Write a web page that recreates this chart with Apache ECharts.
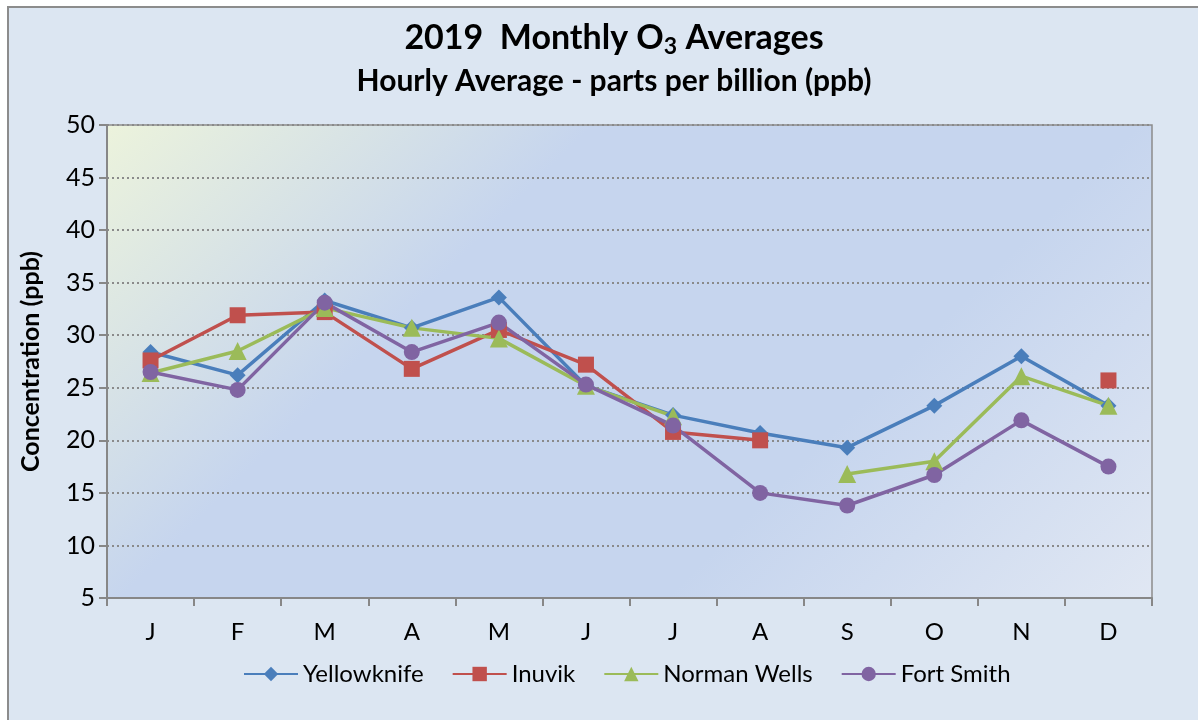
<!DOCTYPE html>
<html>
<head>
<meta charset="utf-8">
<script src="https://cdn.jsdelivr.net/npm/echarts@6/dist/echarts.min.js"></script>
<style>
  html, body { margin: 0; padding: 0; background: #ffffff; }
  #main { width: 1198px; height: 720px; }
</style>
</head>
<body>
<div id="main"></div>
<script>
// months
const months = ['J', 'F', 'M', 'A', 'M', 'J', 'J', 'A', 'S', 'O', 'N', 'D']
// monthly O3 averages (ppb)
const yellowknife = [28.4, 26.2, 33.3, 30.7, 33.6, 25.2, 22.4, 20.7, 19.3, 23.3, 28.0, 23.3]
const inuvik = [27.6, 31.9, 32.2, 26.8, 30.5, 27.2, 20.8, 20.0, null, null, null, 25.7]
const normanWells = [26.4, 28.5, 32.6, 30.7, 29.7, 25.2, 22.3, null, 16.8, 18.0, 26.1, 23.3]
const fortSmith = [26.5, 24.8, 33.1, 28.4, 31.2, 25.3, 21.4, 15.0, 13.8, 16.7, 21.9, 17.5]

const FONT = 'Lato'

function makeSeries(name, data, color, symbol, size) {
  return {
    name: name,
    type: 'line',
    data: data,
    symbol: symbol,
    symbolSize: size,
    connectNulls: false,
    showAllSymbol: true,
    lineStyle: { color: color, width: 3.5 },
    itemStyle: { color: color },
    emphasis: { disabled: true }
  }
}

const chart = echarts.init(document.getElementById('main'))
const option = {
  animation: false,
  backgroundColor: '#ffffff',
  textStyle: { fontFamily: FONT },
  graphic: [
    {
      type: 'rect',
      z: -10,
      shape: { x: 8, y: 7, width: 1200, height: 720 },
      style: { fill: '#dce6f2', stroke: '#8c8c8c', lineWidth: 2 }
    }
  ],
  title: [
    {
      text: '2019  Monthly O{sub|3} Averages',
      left: 609,
      textAlign: 'center',
      top: 14,
      textStyle: {
        fontFamily: FONT,
        fontSize: 34,
        fontWeight: 'bold',
        color: '#000',
        rich: {
          sub: { fontFamily: FONT, fontSize: 23, fontWeight: 'bold', color: '#000', verticalAlign: 'bottom', padding: [16, 0, 0, 0] }
        }
      }
    },
    {
      text: 'Hourly Average - parts per billion (ppb)',
      left: 609,
      textAlign: 'center',
      top: 61,
      textStyle: { fontFamily: FONT, fontSize: 30, fontWeight: 'bold', color: '#000' }
    }
  ],
  legend: {
    left: 238,
    top: 657,
    itemWidth: 54,
    itemHeight: 18,
    itemGap: 28,
    textStyle: { fontFamily: FONT, fontSize: 24, color: '#000' },
    data: ['Yellowknife', 'Inuvik', 'Norman Wells', 'Fort Smith']
  },
  grid: {
    left: 107,
    right: 46,
    top: 125,
    bottom: 122,
    show: true,
    borderColor: '#8c8c8c',
    borderWidth: 1.5,
    backgroundColor: {
      type: 'linear',
      global: true,
      x: 107, y: 125, x2: 866, y2: 884,
      colorStops: [
        { offset: 0, color: '#ecf3dc' },
        { offset: 0.32, color: '#c6d5ee' },
        { offset: 0.68, color: '#c6d5ee' },
        { offset: 1, color: '#e0e7f3' }
      ]
    }
  },
  xAxis: {
    type: 'category',
    data: months,
    boundaryGap: true,
    axisLine: { lineStyle: { color: '#878787', width: 2 } },
    axisTick: { show: true, length: 8, lineStyle: { color: '#878787', width: 2 } },
    axisLabel: { fontFamily: FONT, fontSize: 24, color: '#000', margin: 22 },
    splitLine: { show: false }
  },
  yAxis: {
    type: 'value',
    min: 5,
    max: 50,
    interval: 5,
    name: 'Concentration (ppb)',
    nameLocation: 'middle',
    nameGap: 64,
    nameTextStyle: { fontFamily: FONT, fontSize: 25, fontWeight: 'bold', color: '#000' },
    axisLine: { show: true, lineStyle: { color: '#878787', width: 2 } },
    axisTick: { show: true, length: 8, lineStyle: { color: '#878787', width: 2 } },
    axisLabel: { fontFamily: FONT, fontSize: 25, color: '#000', margin: 12 },
    splitLine: { show: true, lineStyle: { color: '#8a8a8a', type: [2, 3], width: 2 } }
  },
  series: [
    makeSeries('Yellowknife', yellowknife, '#4a7ebb', 'diamond', 16),
    makeSeries('Inuvik', inuvik, '#c0504d', 'rect', 16),
    makeSeries('Norman Wells', normanWells, '#9bbb59', 'triangle', 18),
    makeSeries('Fort Smith', fortSmith, '#8064a2', 'circle', 16)
  ]
}

chart.setOption(option)
</script>
</body>
</html>
